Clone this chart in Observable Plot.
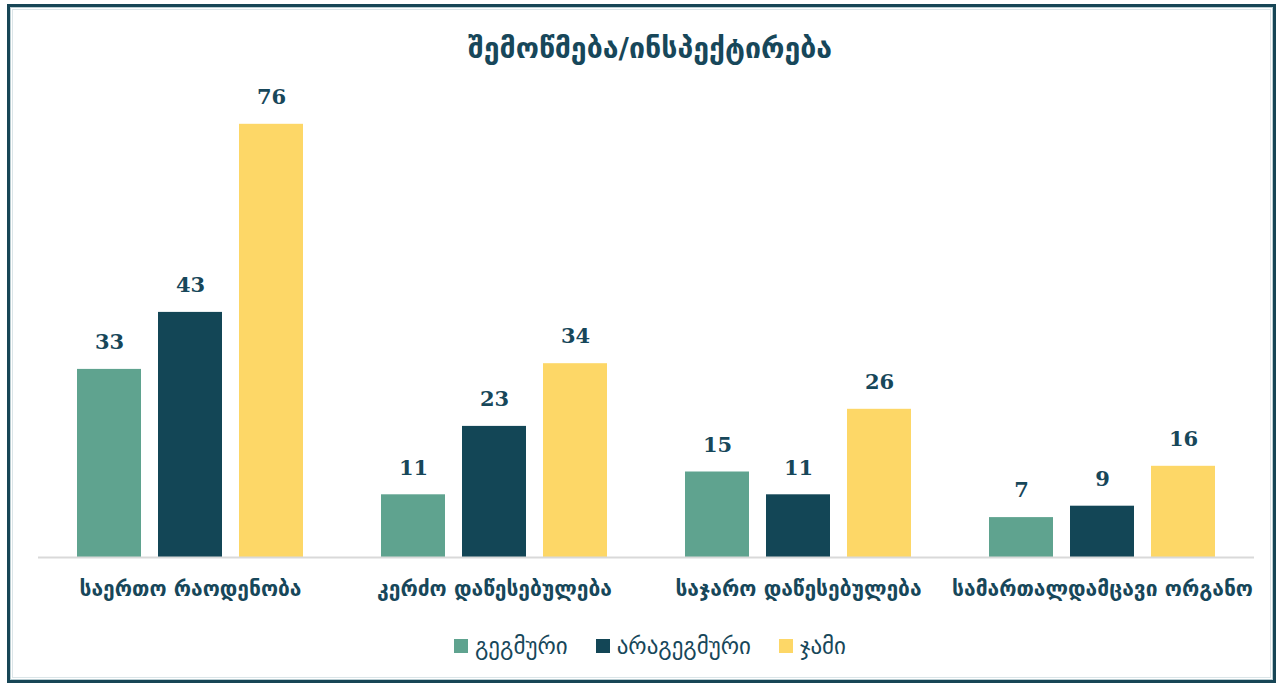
<!DOCTYPE html>
<html>
<head>
<meta charset="utf-8">
<script src="https://cdn.jsdelivr.net/npm/d3@7"></script>
<script src="https://cdn.jsdelivr.net/npm/@observablehq/plot@0.6"></script>
<style>
  html, body { margin: 0; padding: 0; background: #fff; }
  body { width: 1283px; height: 686px; position: relative; overflow: hidden; font-family: "DejaVu Sans", sans-serif; }
  #frame { position: absolute; left: 7px; top: 4px; width: 1263px; height: 673px; border: 3px solid #174656;
           box-shadow: inset 0 0 0 1px #b9cdd2, inset 0 0 0 2px #ffffff, inset 0 0 0 3px #dbe5e8; }
  #title { position: absolute; left: 0; width: 1300px; top: 32px; text-align: center; font-size: 28.5px; font-weight: bold; color: #17475a; }
  #chart { position: absolute; left: 0; top: 80px; }
  #legend { position: absolute; left: 0; width: 1300px; top: 633px; display: flex; justify-content: center; gap: 28px; font-size: 23px; color: #17475a; }
  #legend .item { display: flex; align-items: center; gap: 7px; }
  #legend .sw { width: 14px; height: 14px; display: inline-block; }
</style>
</head>
<body>
<div id="frame"></div>
<div id="title"></div>
<div id="chart"></div>
<div id="legend"></div>
<script>
const titleText = "შემოწმება/ინსპექტირება";
const categories = ["საერთო რაოდენობა", "კერძო დაწესებულება", "საჯარო დაწესებულება", "სამართალდამცავი ორგანო"];
const series = ["გეგმური", "არაგეგმური", "ჯამი"];
const planned = [33, 11, 15, 7];
const unplanned = [43, 23, 11, 9];
const total = [76, 34, 26, 16];
const colors = ["#5fa38f", "#134656", "#fdd767"];

const valuesBySeries = [planned, unplanned, total];
const rows = [];
categories.forEach((c, i) => {
  series.forEach((s, j) => rows.push({category: c, series: s, value: valuesBySeries[j][i]}));
});

document.getElementById("title").textContent = titleText;

const plot = Plot.plot({
  width: 1283,
  height: 540,
  marginTop: 21,
  marginBottom: 63,
  marginLeft: 38,
  marginRight: 29,
  style: {fontFamily: "DejaVu Sans, sans-serif", background: "transparent"},
  fx: {domain: categories, padding: 0, label: null, axis: "bottom", tickSize: 0, tickPadding: 24},
  x: {domain: series, paddingInner: 0.21, paddingOuter: 0.46, axis: null},
  y: {domain: [0, 80], axis: null},
  color: {domain: series, range: colors},
  marks: [
    Plot.barY(rows, {fx: "category", x: "series", y: "value", fill: "series"}),
    Plot.ruleY([0], {stroke: "#d9d9d9", strokeWidth: 2}),
    Plot.text(rows, {fx: "category", x: "series", y: "value", text: d => String(d.value), dy: -27,
      fill: "#17475a", fontSize: 21, fontWeight: "bold", fontFamily: "DejaVu Serif, serif"})
  ]
});
d3.select(plot).selectAll("g[aria-label='fx-axis tick label'] text")
  .style("font-size", "21px").style("font-weight", "bold").attr("fill", "#17475a");
document.getElementById("chart").appendChild(plot);

const legend = d3.select("#legend");
series.forEach((s, j) => {
  const it = legend.append("div").attr("class", "item");
  it.append("span").attr("class", "sw").style("background", colors[j]);
  it.append("span").text(s);
});
</script>
</body>
</html>
